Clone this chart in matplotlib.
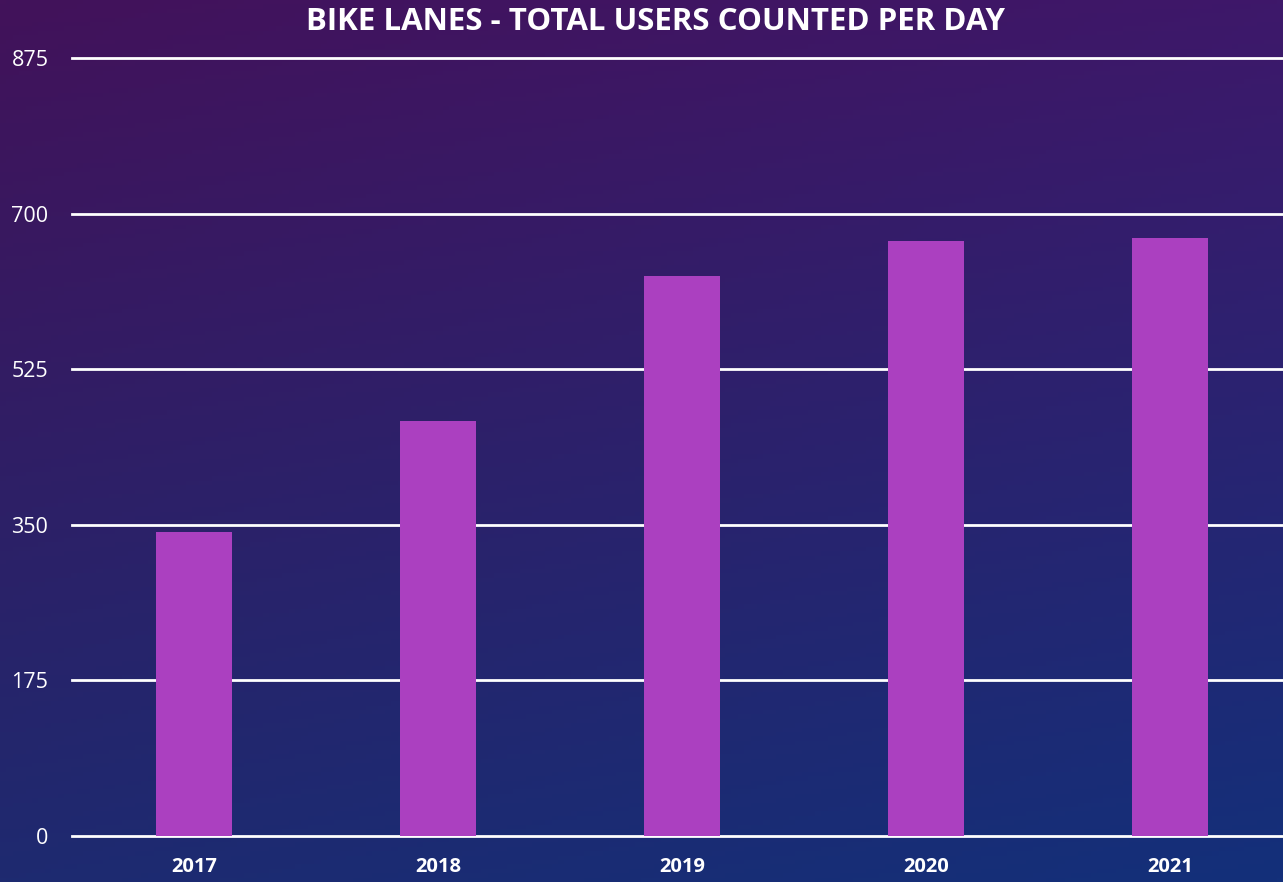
import numpy as np
import matplotlib.pyplot as plt
from matplotlib.ticker import FixedLocator

years = ["2017", "2018", "2019", "2020", "2021"]
users = [342, 467, 630, 669, 673]
yticks = [0, 175, 350, 525, 700, 875]

plt.rcParams['font.family'] = ['Open Sans', 'DejaVu Sans']

fig = plt.figure(figsize=(12.83, 8.82), dpi=100)

# background gradient (purple top -> blue bottom)
bg = fig.add_axes([0, 0, 1, 1], zorder=0)
tl = np.array([0x42, 0x12, 0x5a]) / 255
tr = np.array([0x3e, 0x18, 0x6a]) / 255
bl = np.array([0x1e, 0x2a, 0x70]) / 255
br = np.array([0x13, 0x30, 0x7a]) / 255
yy, xx = np.mgrid[0:1:200j, 0:1:200j]
img = (tl[None, None, :] * ((1 - xx) * (1 - yy))[..., None]
       + tr[None, None, :] * (xx * (1 - yy))[..., None]
       + bl[None, None, :] * ((1 - xx) * yy)[..., None]
       + br[None, None, :] * (xx * yy)[..., None])
bg.imshow(img, aspect='auto', extent=[0, 1, 0, 1])
bg.axis('off')

ax = fig.add_axes([72 / 1283, 1 - 836 / 882, 1220 / 1283, 778 / 882], zorder=1)
ax.patch.set_alpha(0)
x = np.arange(len(years))
ax.bar(x, users, width=0.31, color='#ab40c0', zorder=3)
ax.set_xlim(-0.5, len(years) - 0.5)
ax.set_ylim(0, 875)
ax.yaxis.set_major_locator(FixedLocator(yticks))
for t in yticks:
    ax.axhline(t, color='white', linewidth=2, zorder=1, clip_on=False)
for s in ax.spines.values():
    s.set_visible(False)
ax.tick_params(length=0)
ax.set_xticks(x)
ax.set_xticklabels(years, color='white', fontsize=14.5, fontweight='bold')
ax.set_yticklabels([str(t) for t in yticks], color='white', fontsize=15.5)
ax.tick_params(axis='x', pad=15)
ax.tick_params(axis='y', pad=17)

fig.text(655 / 1283, 1 - 22 / 882, "BIKE LANES - TOTAL USERS COUNTED PER DAY",
         color='white', fontsize=22.5, fontweight='bold', ha='center', va='center')

fig.savefig("out.png", dpi=100)
